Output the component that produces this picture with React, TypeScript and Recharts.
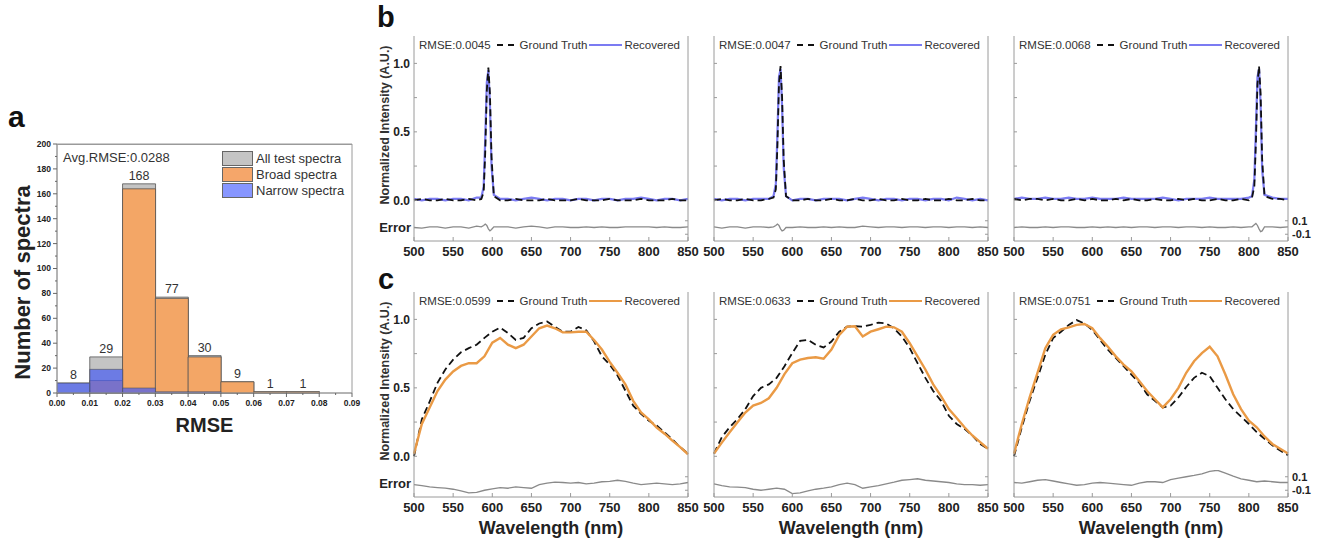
import React from 'react';
import { BarChart, Bar, LineChart, Line, XAxis, YAxis, Legend, LabelList, ReferenceArea } from 'recharts';

const FONT = '"Liberation Sans", Arial, Helvetica, sans-serif';
const FRAME = '#9a9a9a';
const INK = '#222';

// ---------- panel a: RMSE histogram ----------
const rmseBinCenters = [0.005, 0.015, 0.025, 0.035, 0.045, 0.055, 0.065, 0.075, 0.085];
const allSpectra = [8, 29, 168, 77, 30, 9, 1, 1, 0];
const broadSpectra = [0, 10, 164, 76, 29, 9, 1, 1, 0];
const narrowSpectra = [8, 19, 4, 1, 1, 0, 0, 0, 0];
const rmseTicks = [0, 0.005, 0.01, 0.015, 0.02, 0.025, 0.03, 0.035, 0.04, 0.045, 0.05, 0.055, 0.06, 0.065, 0.07, 0.075, 0.08, 0.085, 0.09];
const countTicks = [0, 10, 20, 30, 40, 50, 60, 70, 80, 90, 100, 110, 120, 130, 140, 150, 160, 170, 180, 190, 200];
const histSeries = [
  { name: 'All test spectra', swatch: '#c4c4c4' },
  { name: 'Broad spectra', swatch: '#f5a66a' },
  { name: 'Narrow spectra', swatch: '#8796ff' },
];

// ---------- panels b / c: spectra ----------
const wlTicks = [500, 550, 600, 650, 700, 750, 800, 850];

const b1Wl = [500, 510, 520, 530, 540, 550, 560, 570, 580, 586, 589, 591, 593, 595, 597, 599, 602, 610, 620, 630, 640, 650, 660, 670, 680, 690, 700, 710, 720, 730, 740, 750, 760, 770, 780, 790, 800, 810, 820, 830, 840, 850];
const b1Gt = [0.00, 0.01, 0.00, 0.00, 0.01, 0.00, 0.00, 0.01, 0.00, 0.01, 0.06, 0.35, 0.80, 0.97, 0.78, 0.32, 0.03, 0.00, 0.00, 0.01, 0.00, 0.00, 0.00, 0.01, 0.00, 0.00, 0.00, 0.01, 0.00, 0.00, 0.00, 0.01, 0.00, 0.00, 0.00, 0.01, 0.00, 0.00, 0.00, 0.01, 0.00, 0.00];
const b1Rec = [0.01, 0.00, 0.01, 0.01, 0.00, 0.01, 0.01, 0.00, 0.02, 0.02, 0.10, 0.45, 0.86, 0.95, 0.70, 0.25, 0.04, 0.01, 0.01, 0.00, 0.01, 0.02, 0.01, 0.00, 0.01, 0.01, 0.00, 0.01, 0.01, 0.00, 0.01, 0.01, 0.00, 0.01, 0.01, 0.02, 0.01, 0.00, 0.01, 0.01, 0.00, 0.01];
const b1Err = [0.00, -0.01, 0.01, 0.01, -0.01, 0.01, 0.01, -0.01, 0.02, 0.01, 0.03, 0.05, 0.03, -0.02, -0.05, -0.03, 0.01, 0.01, 0.01, -0.01, 0.01, 0.02, 0.01, -0.01, 0.01, 0.01, 0.00, 0.00, 0.01, 0.00, 0.01, 0.00, 0.00, 0.01, 0.01, 0.01, 0.01, 0.00, 0.01, 0.00, 0.00, 0.01];

const b2Wl = [500, 510, 520, 530, 540, 550, 560, 570, 576, 579, 581, 583, 585, 587, 589, 592, 600, 610, 620, 630, 640, 650, 660, 670, 680, 690, 700, 710, 720, 730, 740, 750, 760, 770, 780, 790, 800, 810, 820, 830, 840, 850];
const b2Gt = [0.00, 0.01, 0.00, 0.00, 0.01, 0.00, 0.00, 0.01, 0.02, 0.08, 0.40, 0.85, 0.98, 0.75, 0.30, 0.03, 0.00, 0.00, 0.01, 0.00, 0.00, 0.01, 0.00, 0.00, 0.01, 0.00, 0.00, 0.01, 0.00, 0.00, 0.01, 0.00, 0.00, 0.01, 0.00, 0.00, 0.01, 0.00, 0.00, 0.01, 0.00, 0.00];
const b2Rec = [0.01, 0.00, 0.01, 0.01, 0.00, 0.01, 0.01, 0.01, 0.03, 0.12, 0.48, 0.90, 0.96, 0.68, 0.24, 0.03, 0.00, 0.01, 0.01, 0.00, 0.01, 0.01, 0.01, 0.00, 0.01, 0.02, 0.01, 0.00, 0.01, 0.01, 0.00, 0.01, 0.01, 0.00, 0.01, 0.01, 0.00, 0.02, 0.01, 0.00, 0.01, 0.00];
const b2Err = [0.01, -0.01, 0.01, 0.01, -0.01, 0.01, 0.01, 0.00, 0.01, 0.03, 0.05, 0.03, -0.02, -0.05, -0.04, 0.00, 0.00, 0.01, 0.00, 0.00, 0.01, 0.00, 0.01, 0.00, 0.00, 0.02, 0.01, 0.00, 0.01, 0.01, 0.00, 0.01, 0.01, 0.00, 0.01, 0.01, 0.00, 0.01, 0.01, 0.00, 0.01, 0.00];

const b3Wl = [500, 510, 520, 530, 540, 550, 560, 570, 580, 590, 600, 610, 620, 630, 640, 650, 660, 670, 680, 690, 700, 710, 720, 730, 740, 750, 760, 770, 780, 790, 800, 804, 807, 809, 811, 813, 815, 817, 820, 830, 840, 850];
const b3Gt = [0.01, 0.00, 0.01, 0.01, 0.00, 0.01, 0.00, 0.00, 0.01, 0.00, 0.01, 0.00, 0.00, 0.01, 0.00, 0.01, 0.00, 0.00, 0.01, 0.00, 0.00, 0.01, 0.00, 0.01, 0.00, 0.00, 0.01, 0.00, 0.00, 0.01, 0.00, 0.02, 0.10, 0.42, 0.85, 0.98, 0.78, 0.30, 0.03, 0.01, 0.01, 0.00];
const b3Rec = [0.01, 0.02, 0.01, 0.01, 0.02, 0.01, 0.01, 0.02, 0.01, 0.01, 0.02, 0.01, 0.01, 0.01, 0.02, 0.01, 0.01, 0.01, 0.01, 0.02, 0.01, 0.00, 0.01, 0.01, 0.01, 0.02, 0.01, 0.01, 0.01, 0.01, 0.02, 0.03, 0.15, 0.52, 0.90, 0.96, 0.70, 0.22, 0.04, 0.02, 0.01, 0.01];
const b3Err = [0.00, 0.01, 0.00, 0.00, 0.01, 0.00, 0.01, 0.01, 0.00, 0.00, 0.01, 0.00, 0.01, 0.00, 0.01, 0.00, 0.01, 0.01, 0.00, 0.01, 0.01, 0.00, 0.01, 0.01, 0.00, 0.01, 0.00, 0.00, 0.01, 0.00, 0.01, 0.01, 0.04, 0.06, 0.03, -0.02, -0.06, -0.05, 0.01, 0.01, 0.00, 0.01];

const cWl = [500, 510, 520, 530, 540, 550, 560, 570, 580, 590, 600, 610, 620, 630, 640, 650, 660, 670, 680, 690, 700, 710, 720, 730, 740, 750, 760, 770, 780, 790, 800, 810, 820, 830, 840, 850];
const c1Gt = [0.0, 0.27, 0.40, 0.537, 0.634, 0.706, 0.76, 0.79, 0.815, 0.865, 0.91, 0.94, 0.90, 0.85, 0.865, 0.935, 0.97, 0.985, 0.945, 0.91, 0.91, 0.945, 0.92, 0.84, 0.73, 0.67, 0.59, 0.48, 0.37, 0.31, 0.26, 0.225, 0.175, 0.125, 0.067, 0.02];
const c1Rec = [0.02, 0.236, 0.357, 0.477, 0.56, 0.62, 0.66, 0.68, 0.68, 0.73, 0.83, 0.865, 0.815, 0.79, 0.815, 0.875, 0.935, 0.955, 0.935, 0.905, 0.905, 0.91, 0.91, 0.85, 0.78, 0.69, 0.61, 0.525, 0.405, 0.32, 0.27, 0.21, 0.165, 0.115, 0.067, 0.015];
const c1Err = [-0.016, -0.03, -0.05, -0.06, -0.07, -0.085, -0.11, -0.14, -0.13, -0.10, -0.08, -0.06, -0.07, -0.05, -0.06, -0.07, -0.016, 0.005, 0.02, 0.015, 0.005, 0.015, -0.005, 0.005, 0.026, 0.03, 0.048, 0.03, 0.005, -0.016, -0.005, 0.005, -0.005, -0.016, -0.005, 0.015];

const c2Gt = [0.02, 0.14, 0.212, 0.272, 0.345, 0.44, 0.50, 0.525, 0.573, 0.658, 0.754, 0.843, 0.85, 0.814, 0.795, 0.838, 0.91, 0.947, 0.95, 0.947, 0.96, 0.976, 0.97, 0.935, 0.875, 0.79, 0.68, 0.573, 0.477, 0.405, 0.296, 0.236, 0.20, 0.152, 0.09, 0.055];
const c2Rec = [0.02, 0.10, 0.176, 0.248, 0.32, 0.37, 0.39, 0.424, 0.50, 0.60, 0.68, 0.706, 0.718, 0.723, 0.713, 0.78, 0.887, 0.947, 0.95, 0.875, 0.91, 0.928, 0.947, 0.942, 0.91, 0.826, 0.73, 0.634, 0.525, 0.44, 0.345, 0.28, 0.212, 0.152, 0.104, 0.055];
const c2Err = [-0.005, -0.03, -0.05, -0.055, -0.06, -0.085, -0.10, -0.085, -0.07, -0.085, -0.15, -0.14, -0.11, -0.085, -0.07, -0.05, -0.016, 0.005, -0.016, -0.07, -0.05, -0.03, -0.005, 0.02, 0.048, 0.058, 0.07, 0.048, 0.037, 0.026, 0.015, -0.005, -0.016, -0.016, -0.026, -0.016];

const c3Gt = [0.0, 0.212, 0.405, 0.573, 0.742, 0.863, 0.91, 0.96, 0.995, 0.97, 0.923, 0.85, 0.778, 0.718, 0.658, 0.597, 0.537, 0.453, 0.405, 0.357, 0.369, 0.43, 0.506, 0.573, 0.61, 0.585, 0.50, 0.417, 0.345, 0.29, 0.236, 0.176, 0.128, 0.08, 0.043, 0.007];
const c3Rec = [0.02, 0.236, 0.43, 0.61, 0.79, 0.887, 0.928, 0.942, 0.96, 0.966, 0.935, 0.863, 0.80, 0.73, 0.67, 0.62, 0.55, 0.477, 0.417, 0.357, 0.417, 0.50, 0.61, 0.694, 0.754, 0.80, 0.73, 0.597, 0.453, 0.345, 0.26, 0.212, 0.145, 0.09, 0.055, 0.02];
const c3Err = [0.015, 0.005, 0.026, 0.048, 0.058, 0.037, 0.015, -0.005, -0.026, -0.016, 0.005, 0.015, 0.005, -0.005, -0.016, -0.026, 0.005, 0.026, 0.026, 0.015, 0.058, 0.08, 0.10, 0.12, 0.143, 0.18, 0.196, 0.153, 0.11, 0.07, 0.048, 0.026, 0.037, 0.026, 0.015, 0.015];

// layout of the spectrum grid
const COL_LEFT = [414, 714, 1014];
const ROW_TOP = [36, 292];
const PW = 274;
const MAIN_H = 178;
const ERR_H = 27;
const SIDE = 50;
const BLUE = '#7b7bf2';
const ORANGE = '#ea9a45';

const panels = [
  { row: 0, col: 0, wl: b1Wl, gt: b1Gt, rec: b1Rec, err: b1Err, rmse: '0.0045', color: BLUE },
  { row: 0, col: 1, wl: b2Wl, gt: b2Gt, rec: b2Rec, err: b2Err, rmse: '0.0047', color: BLUE },
  { row: 0, col: 2, wl: b3Wl, gt: b3Gt, rec: b3Rec, err: b3Err, rmse: '0.0068', color: BLUE },
  { row: 1, col: 0, wl: cWl, gt: c1Gt, rec: c1Rec, err: c1Err, rmse: '0.0599', color: ORANGE },
  { row: 1, col: 1, wl: cWl, gt: c2Gt, rec: c2Rec, err: c2Err, rmse: '0.0633', color: ORANGE },
  { row: 1, col: 2, wl: cWl, gt: c3Gt, rec: c3Rec, err: c3Err, rmse: '0.0751', color: ORANGE },
];

// ---------- tick renderers ----------
const txt = { fontFamily: FONT, fontWeight: 'bold' as const, fill: INK };

const inTickX = (showLabel: boolean) => (props: any) => {
  const { x, y, payload } = props;
  return (
    <g>
      <line x1={x} x2={x} y1={y} y2={y - 4} stroke={FRAME} />
      {showLabel && (
        <text x={x} y={y + 15} textAnchor="middle" fontSize={13} {...txt}>{payload.value}</text>
      )}
    </g>
  );
};

const inTickYMain = (showLabel: boolean) => (props: any) => {
  const { x, y, payload } = props;
  const v = payload.value;
  const major = Math.abs(v * 2 - Math.round(v * 2)) < 1e-6;
  return (
    <g>
      <line x1={x} x2={x + 3} y1={y} y2={y} stroke={FRAME} />
      {showLabel && major && (
        <text x={x - 4} y={y} dy="0.35em" textAnchor="end" fontSize={12} {...txt}>{v.toFixed(1)}</text>
      )}
    </g>
  );
};

const errRightTick = (showLabel: boolean) => (props: any) => {
  const { x, y, payload } = props;
  return (
    <g>
      <line x1={x} x2={x - 3} y1={y} y2={y} stroke={FRAME} />
      {showLabel && (
        <text x={x + 4} y={y} dy="0.35em" textAnchor="start" fontSize={11} {...txt}>{payload.value}</text>
      )}
    </g>
  );
};

const yTitle = (props: any) => {
  const vb = props.viewBox || { x: 0, y: 0, width: 0, height: 0 };
  const cx = vb.x + 21;
  const cy = vb.y + vb.height / 2;
  return (
    <text x={cx} y={cy} transform={`rotate(-90, ${cx}, ${cy})`} textAnchor="middle" dy="0.35em" fontSize={12.5} fontFamily={FONT} fontWeight="bold" fill="#333">
      Normalized Intensity (A.U.)
    </text>
  );
};

const errTitle = (props: any) => {
  const vb = props.viewBox || { x: 0, y: 0, width: 0, height: 0 };
  return (
    <text x={vb.x + vb.width - 3} y={vb.y + vb.height / 2} dy="0.35em" textAnchor="end" fontSize={13} {...txt}>Error</text>
  );
};

const wlTitle = (props: any) => {
  const vb = props.viewBox || { x: 0, y: 0, width: 0, height: 0 };
  return (
    <text x={vb.x + vb.width / 2} y={vb.y + 31} dy="0.35em" textAnchor="middle" fontSize={18} {...txt}>Wavelength (nm)</text>
  );
};

const SpecLegend = ({ rmse, color }: { rmse: string; color: string }) => (
  <div style={{ display: 'flex', alignItems: 'center', fontFamily: FONT, fontSize: 11.5, color: '#333', whiteSpace: 'nowrap', lineHeight: '12px' }}>
    <span>RMSE:{rmse}</span>
    <svg width={19} height={6} style={{ margin: '0 5px 0 5px' }}>
      <line x1={1} y1={3} x2={19} y2={3} stroke="#111" strokeWidth={2} strokeDasharray="6 5" />
    </svg>
    <span>Ground Truth</span>
    <svg width={35} height={6} style={{ margin: '0 1px' }}>
      <line x1={1} y1={3} x2={34} y2={3} stroke={color} strokeWidth={2} />
    </svg>
    <span>Recovered</span>
  </div>
);

function SpectrumPanel({ p }: { p: any }) {
  const left = COL_LEFT[p.col];
  const top = ROW_TOP[p.row];
  const first = p.col === 0;
  const last = p.col === 2;
  const xTitle = p.row === 1;
  const W = SIDE * 2 + PW;
  const rows = p.wl.map((w: number, i: number) => ({ wl: w, gt: p.gt[i], rec: p.rec[i] }));
  const errRows = p.wl.map((w: number, i: number) => ({ wl: w, err: p.err[i] }));
  const gtLine = (
    <Line key="gt" type="linear" dataKey="gt" name="Ground Truth" stroke="#111" strokeWidth={1.8} strokeDasharray="7 4" dot={false} isAnimationActive={false} />
  );
  const recLine = (
    <Line key="rec" type="linear" dataKey="rec" name="Recovered" stroke={p.color} strokeWidth={p.row === 0 ? 2.2 : 2.4} dot={false} isAnimationActive={false} />
  );
  const bottomH = xTitle ? 50 : 24;
  return (
    <>
      <div style={{ position: 'absolute', left: left - SIDE, top: top - 4 }}>
        <LineChart width={W} height={MAIN_H + 6} data={rows} margin={{ top: 4, right: 0, bottom: 2, left: 0 }}>
          <XAxis dataKey="wl" type="number" domain={[500, 850]} ticks={wlTicks} interval={0} height={0} tickSize={0} tickMargin={0} tickLine={false} axisLine={{ stroke: FRAME }} tick={inTickX(false)} />
          <XAxis xAxisId="top" orientation="top" type="number" domain={[500, 850]} allowDataOverflow height={0} tick={false} tickLine={false} axisLine={{ stroke: FRAME }} />
          <YAxis type="number" domain={[-0.1, 1.2]} ticks={[0, 0.25, 0.5, 0.75, 1]} interval={0} width={SIDE} tickSize={0} tickMargin={0} tickLine={false} axisLine={{ stroke: FRAME }} tick={inTickYMain(first)} label={first ? yTitle : undefined} />
          <YAxis yAxisId="r" orientation="right" type="number" domain={[-0.1, 1.2]} allowDataOverflow width={SIDE} tick={false} tickLine={false} axisLine={{ stroke: FRAME }} />
          <Legend verticalAlign="middle" align="center" layout="horizontal" wrapperStyle={{ top: 7, left: SIDE + 5, width: 'auto' }} content={() => <SpecLegend rmse={p.rmse} color={p.color} />} />
          {p.row === 0 ? [recLine, gtLine] : [gtLine, recLine]}
        </LineChart>
      </div>
      <div style={{ position: 'absolute', left: left - SIDE, top: top + MAIN_H - 1 }}>
        <LineChart width={W} height={1 + ERR_H + bottomH} data={errRows} margin={{ top: 1, right: 0, bottom: 0, left: 0 }}>
          <XAxis dataKey="wl" type="number" domain={[500, 850]} ticks={wlTicks} interval={0} height={bottomH} tickSize={0} tickMargin={0} tickLine={false} axisLine={{ stroke: FRAME }} tick={inTickX(true)} label={xTitle ? wlTitle : undefined} />
          <XAxis xAxisId="top" orientation="top" type="number" domain={[500, 850]} allowDataOverflow height={0} tick={false} tickLine={false} axisLine={{ stroke: FRAME }} />
          <YAxis type="number" domain={[-0.2, 0.2]} allowDataOverflow width={SIDE} tick={false} tickLine={false} axisLine={{ stroke: FRAME }} label={first ? errTitle : undefined} />
          <YAxis yAxisId="r" orientation="right" type="number" domain={[-0.2, 0.2]} allowDataOverflow ticks={[-0.1, 0.1]} interval={0} width={SIDE} tickSize={0} tickMargin={0} tickLine={false} axisLine={{ stroke: FRAME }} tick={errRightTick(last)} />
          <Line type="linear" dataKey="err" name="Error" stroke="#8a8a8a" strokeWidth={1.3} dot={false} isAnimationActive={false} />
        </LineChart>
      </div>
    </>
  );
}

// ---------- panel a renderers ----------
const histXTick = (props: any) => {
  const { x, y, payload, index } = props;
  const major = index % 2 === 0;
  return (
    <g>
      <line x1={x} x2={x} y1={y} y2={y + (major ? 4 : 2)} stroke="#666" />
      {major && (
        <text x={x} y={y + 13} textAnchor="middle" fontSize={8.5} {...txt}>{Number(payload.value).toFixed(2)}</text>
      )}
    </g>
  );
};

const histYTick = (props: any) => {
  const { x, y, payload } = props;
  const major = payload.value % 20 === 0;
  return (
    <g>
      <line x1={x} x2={x - (major ? 4 : 2)} y1={y} y2={y} stroke="#666" />
      {major && (
        <text x={x - 6} y={y} dy="0.35em" textAnchor="end" fontSize={8.5} {...txt}>{payload.value}</text>
      )}
    </g>
  );
};

const countTitle = (props: any) => {
  const vb = props.viewBox || { x: 0, y: 0, width: 0, height: 0 };
  const cx = vb.x + 22;
  const cy = vb.y + vb.height / 2 + 14;
  return (
    <text x={cx} y={cy} transform={`rotate(-90, ${cx}, ${cy})`} textAnchor="middle" dy="0.35em" fontSize={22} {...txt}>Number of spectra</text>
  );
};

const rmseTitle = (props: any) => {
  const vb = props.viewBox || { x: 0, y: 0, width: 0, height: 0 };
  return (
    <text x={vb.x + vb.width / 2} y={vb.y + 32} dy="0.35em" textAnchor="middle" fontSize={20} {...txt}>RMSE</text>
  );
};

const HistLegend = () => (
  <div style={{ position: 'relative', width: 290, height: 50, fontFamily: FONT, fontSize: 13, color: '#333' }}>
    <div style={{ position: 'absolute', left: 0, top: 0, lineHeight: '16px', whiteSpace: 'nowrap' }}>Avg.RMSE:0.0288</div>
    <div style={{ position: 'absolute', left: 159, top: 0 }}>
      {histSeries.map((s) => (
        <div key={s.name} style={{ display: 'flex', alignItems: 'center', height: 16, whiteSpace: 'nowrap' }}>
          <span style={{ display: 'inline-block', width: 29, height: 13, background: s.swatch, border: '1px solid #666', marginRight: 3 }} />
          {s.name}
        </div>
      ))}
    </div>
  </div>
);

function HistPanel() {
  const data = rmseBinCenters.map((c, i) => ({ center: c, all: allSpectra[i], broad: broadSpectra[i], narrow: narrowSpectra[i] }));
  return (
    <div style={{ position: 'absolute', left: 0, top: 134 }}>
      <BarChart width={372} height={304} data={data} margin={{ top: 10, right: 20, bottom: 0, left: 0 }} barCategoryGap={0} barGap={0}>
        <XAxis xAxisId="num" dataKey="center" type="number" domain={[0, 0.09]} allowDataOverflow ticks={rmseTicks} interval={0} height={45} tickSize={0} tickMargin={0} tickLine={false} axisLine={{ stroke: FRAME }} tick={histXTick} label={rmseTitle} />
        <XAxis xAxisId="broad" dataKey="center" type="number" domain={[0, 0.09]} allowDataOverflow hide height={0} />
        <XAxis xAxisId="narrow" dataKey="center" type="number" domain={[0, 0.09]} allowDataOverflow hide height={0} />
        <YAxis type="number" domain={[0, 200]} ticks={countTicks} interval={0} width={57} tickSize={0} tickMargin={0} tickLine={false} axisLine={{ stroke: FRAME }} tick={histYTick} label={countTitle} />
        <ReferenceArea xAxisId="num" x1={0} x2={0.09} y1={0} y2={200} fill="none" stroke={FRAME} strokeWidth={1} ifOverflow="visible" />
        <Legend verticalAlign="middle" align="center" layout="horizontal" wrapperStyle={{ top: 16, left: 63, width: 290 }} content={() => <HistLegend />} />
        <Bar xAxisId="num" dataKey="all" name="All test spectra" fill="#c4c4c4" stroke="#555" strokeWidth={0.8} isAnimationActive={false}>
          <LabelList dataKey="all" position="top" offset={4} fontSize={12.5} fill="#333" stroke="none" style={{ fill: '#333' }} fontFamily={FONT} formatter={(v: any) => (v ? v : '')} />
        </Bar>
        <Bar xAxisId="broad" dataKey="broad" name="Broad spectra" fill="#f3a666" stroke="#555" strokeWidth={0.8} isAnimationActive={false} />
        <Bar xAxisId="narrow" dataKey="narrow" name="Narrow spectra" fill="#4a5ef0" fillOpacity={0.72} stroke="#555" strokeWidth={0.6} isAnimationActive={false} />
      </BarChart>
      {/* top edge of the plot frame */}
      <div style={{ position: 'absolute', left: 57, top: 10, width: 295, height: 0, borderTop: `1px solid ${FRAME}` }} />
    </div>
  );
}

export default function App() {
  return (
    <div style={{ position: 'absolute', left: 0, top: 0, width: 1323, height: 548, background: '#fff', overflow: 'hidden', fontFamily: FONT }}>
      <HistPanel />
      {panels.map((p) => (
        <SpectrumPanel key={`${p.row}-${p.col}`} p={p} />
      ))}
      <svg width={1323} height={548} style={{ position: 'absolute', left: 0, top: 0, pointerEvents: 'none' }}>
        <text x={8} y={127} fontSize={30} {...txt} fill="#111">a</text>
        <text x={377} y={27} fontSize={29} {...txt} fill="#111">b</text>
        <text x={378} y={289} fontSize={29} {...txt} fill="#111">c</text>
      </svg>
    </div>
  );
}
